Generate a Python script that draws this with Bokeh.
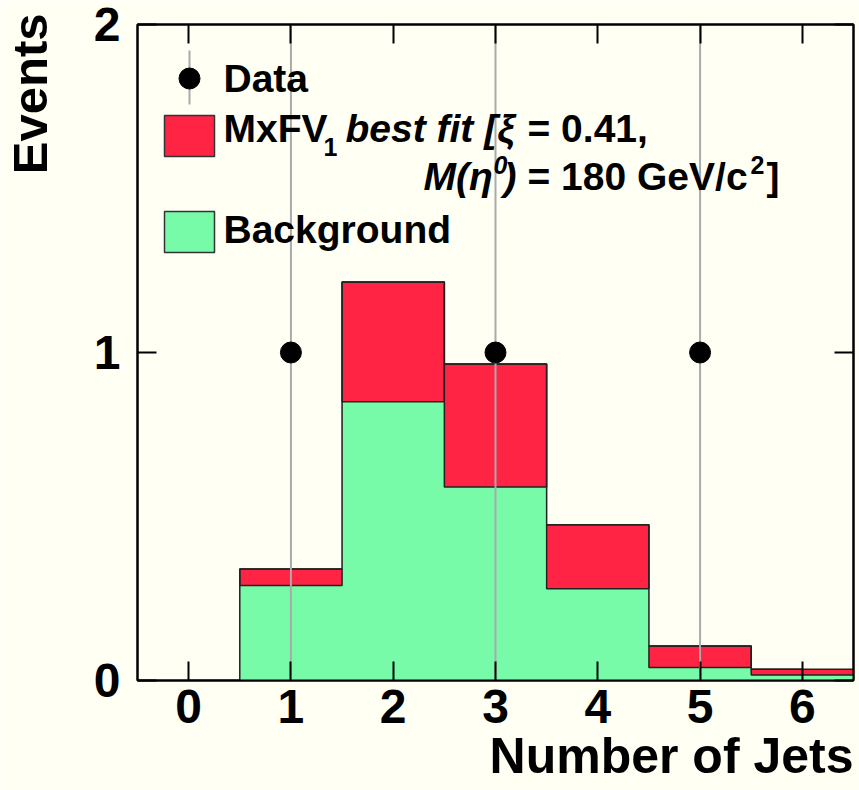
import numpy as np
from bokeh.plotting import figure
from bokeh.models import Range1d, LinearAxis, Label, FixedTicker, Title, CustomLabelingPolicy
from bokeh.embed import file_html
from bokeh.resources import INLINE

# ---- data ----
n_jets = [0, 1, 2, 3, 4, 5, 6]
background = [0.0, 0.29, 0.85, 0.59, 0.28, 0.04, 0.017]
signal_total = [0.0, 0.34, 1.215, 0.965, 0.475, 0.105, 0.034]
data_x = [1, 3, 5]
data_y = [1, 1, 1]
data_err = [1, 1, 1]
x_ticks = [0, 1, 2, 3, 4, 5, 6]
y_ticks = [0, 1, 2]
x_title = "Number of Jets"
y_title = "Events"

BG = "#fffff4"
RED = "#ff2443"
GREEN = "#77fba9"
FONT = "Liberation Sans"

W, H = 859, 790
L, R, T, B = 137, 6, 24, 110
XMIN, XMAX, YMIN, YMAX = -0.5, 6.5, 0.0, 2.0
fw, fh = W - L - R, H - T - B


def px2x(px):
    return XMIN + (px - L) * (XMAX - XMIN) / fw


def px2y(py):
    return YMIN + (T + fh - py) * (YMAX - YMIN) / fh


p = figure(width=W, height=H, output_backend="svg", toolbar_location=None,
           x_range=Range1d(XMIN, XMAX), y_range=Range1d(YMIN, YMAX),
           min_border_left=L, min_border_right=R, min_border_top=T, min_border_bottom=B)
p.background_fill_color = BG
p.border_fill_color = BG
p.outline_line_color = "black"
p.outline_line_width = 2
p.xgrid.visible = False
p.ygrid.visible = False

NO_LABELS = "if (false) { yield 0 }"


# ---- axes ----
def style_axis(ax, ticks, labels=True, standoff=2):
    ax.ticker = FixedTicker(ticks=ticks)
    ax.major_tick_in = 19
    ax.major_tick_out = 0
    ax.minor_tick_in = 0
    ax.minor_tick_out = 0
    ax.axis_line_color = "black"
    ax.axis_line_width = 2
    ax.major_tick_line_width = 2
    ax.major_tick_line_color = "black"
    ax.major_label_text_font = FONT
    ax.major_label_text_font_style = "bold"
    ax.major_label_text_color = "black"
    ax.major_label_standoff = standoff
    if labels:
        ax.major_label_text_font_size = "48px"
    else:
        ax.major_label_text_font_size = "2px"
        ax.major_label_standoff = 0
        ax.major_label_policy = CustomLabelingPolicy(code=NO_LABELS)

xax = p.xaxis[0]
yax = p.yaxis[0]
style_axis(xax, x_ticks, True, 9)
style_axis(yax, y_ticks, True, 17)
top_ax = LinearAxis()
right_ax = LinearAxis()
p.add_layout(top_ax, "above")
p.add_layout(right_ax, "right")
style_axis(top_ax, x_ticks, False)
style_axis(right_ax, y_ticks, False)

# empty spacing panel between the y tick labels and the y title
spacer = LinearAxis(ticker=FixedTicker(ticks=[y_ticks[1]]), major_tick_in=0, major_tick_out=28,
                    minor_tick_in=0, minor_tick_out=0, major_tick_line_color=None,
                    minor_tick_line_color=None, axis_line_color=None,
                    major_label_standoff=0, major_label_text_font_size="2px",
                    major_label_policy=CustomLabelingPolicy(code=NO_LABELS))
p.add_layout(spacer, "left")

xt = Title(text=x_title, align="right", vertical_align="top",
           text_font=FONT, text_font_size="50px", text_font_style="bold",
           text_color="black", standoff=4)
p.add_layout(xt, "below")
yt = Title(text=y_title, align="right", vertical_align="top",
           text_font=FONT, text_font_size="49px", text_font_style="bold",
           text_color="black", standoff=0, offset=-11)
p.add_layout(yt, "left")

# ---- histograms ----
nx = np.array(n_jets, dtype=float)
bg = np.array(background)
tot = np.array(signal_total)
p.quad(left=nx - 0.5, right=nx + 0.5, bottom=0, top=bg,
       fill_color=GREEN, line_color=GREEN, line_width=1)
p.quad(left=nx[1:] - 0.5, right=nx[1:] + 0.5, bottom=bg[1:], top=tot[1:],
       fill_color=RED, line_color="#222222", line_width=1.5)
p.step(x=nx, y=tot, mode="center", line_color="#222222", line_width=1.5)

# ---- data ----
dx = np.array(data_x, dtype=float)
dy = np.array(data_y, dtype=float)
de = np.array(data_err, dtype=float)
p.segment(x0=dx, y0=dy - de, x1=dx, y1=dy + de, line_color="#aaaaaa", line_width=2)
p.scatter(x=dx, y=dy, size=21, fill_color="black", line_color="black")

# ---- legend (manual) ----
p.segment(x0=[px2x(189)], y0=[px2y(50)], x1=[px2x(189)], y1=[px2y(104)],
          line_color="#aaaaaa", line_width=2)
p.scatter(x=[px2x(189)], y=[px2y(78)], size=21, fill_color="black", line_color="black")
p.quad(left=[px2x(164)], right=[px2x(214)], top=[px2y(115)], bottom=[px2y(156)],
       fill_color=RED, line_color="#333333", line_width=1.5)
p.quad(left=[px2x(164)], right=[px2x(214)], top=[px2y(211)], bottom=[px2y(252)],
       fill_color=GREEN, line_color="#333333", line_width=1.5)


def txt(s, px, py, size=39, style="bold"):
    shift = 0.37 * size
    lab = Label(x=px2x(px), y=px2y(py - shift), text=s, text_font=FONT,
                text_font_size=f"{size}px", text_font_style=style,
                text_color="black", text_align="left", text_baseline="alphabetic")
    p.add_layout(lab)

txt("Data", 223, 92)
txt("MxFV", 223, 142)
txt("1", 323, 156, size=25)
txt("best fit [\u03be", 345, 142, style="bold italic")
txt("= 0.41,", 527, 142)
txt("M(\u03b7", 423, 190, style="bold italic")
txt("0", 493, 174, size=25, style="bold italic")
txt(")", 503, 190, style="bold italic")
txt("= 180 GeV/c", 527, 190)
txt("2", 750, 174, size=25)
txt("]", 766, 190)
txt("Background", 223, 243)

open("out.html", "w").write(file_html(p, INLINE))
